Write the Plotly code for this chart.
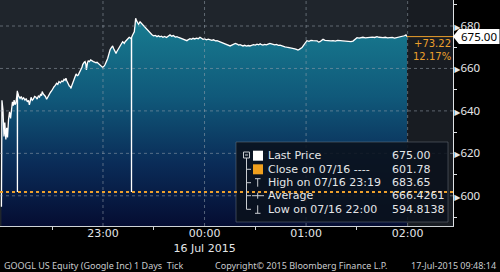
import plotly.graph_objects as go

# ---------------- data ----------------
minutes = [0.0, 0.3, 0.9, 1.5, 2.0, 2.6, 3.1, 3.6, 4.2, 4.8, 5.4, 6.0, 6.5, 7.0, 7.5, 8.0, 8.5, 9.0, 9.4, 9.45, 9.5,
           10.2, 11.0, 11.7, 12.3, 13.1, 13.9, 14.6, 15.3, 16.0, 16.5, 17.0, 17.5, 18.2, 18.8, 19.6, 20.4, 21.1, 21.8,
           22.5, 23.2, 23.7, 24.1, 24.7, 25.3, 26.0, 26.7, 27.5, 28.3, 29.0, 29.7, 30.4, 31.1, 31.8, 32.6, 33.3, 34.0,
           34.8, 35.6, 36.3, 37.0, 37.6, 38.1, 38.6, 39.1, 39.6, 40.1, 40.6, 41.1, 41.6, 42.1, 42.6, 43.0, 43.6, 44.1,
           44.8, 45.4, 45.9, 46.4, 47.0, 47.6, 48.0, 48.4, 48.9, 49.4, 49.9, 50.2, 50.4, 50.9, 51.3, 52.0, 52.7, 53.5,
           54.3, 55.1, 55.9, 56.5, 57.2, 57.9, 58.6, 59.2, 59.8, 60.3, 60.8, 61.3, 61.8, 62.3, 62.8, 63.3, 63.7, 64.2,
           64.7, 65.2, 65.7, 66.2, 66.7, 67.2, 67.7, 68.2, 68.7, 69.2, 69.6, 70.1, 70.6, 71.1, 71.6, 72.1, 72.6, 73.1,
           73.6, 74.1, 74.6, 75.0, 75.5, 76.0, 76.4, 76.8, 76.85, 76.9, 77.5, 78.0, 78.5, 79.0, 79.3, 79.8, 80.4, 81.0,
           81.9, 82.8, 83.8, 84.8, 85.8, 86.8, 87.8, 88.8, 89.8, 90.9, 91.9, 92.8, 93.6, 94.5, 95.4, 96.4, 97.5, 98.5,
           99.6, 100.6, 101.6, 102.7, 103.7, 104.7, 105.7, 106.7, 107.7, 108.6, 109.6, 110.5, 111.4, 112.3, 113.2,
           114.2, 115.2, 116.3, 117.3, 118.2, 119.1, 120.1, 121.1, 122.2, 123.2, 124.3, 125.3, 126.4, 127.4, 128.3,
           129.2, 130.1, 131.0, 132.0, 133.0, 134.1, 135.1, 136.1, 137.1, 138.2, 139.2, 140.1, 141.0, 141.9, 142.7,
           143.7, 144.8, 145.8, 146.8, 147.8, 148.9, 150.0, 151.0, 152.0, 152.9, 153.7, 154.5, 155.5, 156.5, 157.6,
           158.6, 159.5, 160.4, 161.5, 162.5, 163.6, 164.6, 165.6, 166.5, 167.5, 168.5, 169.5, 170.5, 171.4, 172.4,
           173.4, 174.3, 175.2, 176.0, 176.8, 177.6, 178.4, 179.3, 180.0, 180.5, 181.7, 182.9, 184.1, 185.3, 186.5,
           187.4, 188.2, 189.1, 190.0, 191.2, 192.3, 193.5, 194.7, 195.9, 197.3, 198.6, 200.0, 201.4, 202.7, 204.1,
           205.3, 206.5, 207.7, 208.9, 210.1, 211.3, 212.4, 213.6, 215.0, 216.3, 217.7, 219.1, 220.5, 221.9, 223.1,
           224.2, 225.4, 226.8, 228.2, 229.5, 230.9, 232.3, 233.7, 235.0, 236.1, 237.2, 238.1, 239.0, 239.6]

prices = [594.81, 645.0, 640.5, 628.0, 634.5, 626.5, 632.0, 627.5, 636.0, 639.5, 636.5, 642.0, 644.3, 642.5, 645.1,
          643.0, 643.6, 646.5, 649.5, 601.8, 649.0,
          647.0, 645.9, 646.8, 645.5, 646.2, 645.1, 645.8, 644.3, 645.0, 642.8, 644.5, 646.4, 645.0, 645.5, 646.8,
          646.4, 645.6, 647.0, 646.5, 648.0, 647.2, 649.1, 648.0, 647.5, 646.8, 645.5, 646.8, 647.5, 648.8, 649.5,
          650.8, 651.4, 652.0, 653.0, 652.5, 653.8, 653.2, 654.1, 653.8, 654.9, 654.4, 655.4, 654.2, 653.0, 652.2,
          651.7, 651.5, 650.6, 652.0, 653.0, 654.5, 655.4, 656.5, 657.4, 656.6, 656.9, 657.8, 658.5, 659.5, 660.5,
          661.8, 662.7, 662.9, 663.2, 662.0, 659.3, 661.6, 662.8, 663.5, 663.2, 664.0, 663.5, 663.2, 663.0, 662.7,
          662.9, 662.4, 661.8, 661.2, 660.8, 660.5, 660.9, 661.2, 662.0, 662.7, 663.8, 664.8, 666.5, 667.9, 668.8,
          669.5, 670.0, 670.6, 669.5, 668.4, 667.5, 667.1, 668.0, 668.7, 669.6, 670.2, 670.8, 671.5, 672.0, 672.6,
          672.2, 671.8, 672.6, 673.1, 673.4, 673.7, 674.0, 674.7, 674.5, 674.2, 674.4, 601.8, 674.6, 675.8, 676.6,
          677.3, 681.0, 683.65, 682.5, 681.5, 680.8,
          682.0, 681.2, 680.5, 679.7, 678.6, 677.5, 676.6, 676.0, 675.4, 675.6, 675.0, 675.4, 674.9, 675.2, 674.7,
          675.1, 674.6, 675.3, 675.8, 675.2, 675.5, 674.8, 675.0, 674.6, 674.3, 673.8, 673.5, 673.3, 673.1, 673.6,
          674.0, 673.7, 674.2, 673.9, 674.3, 674.0, 674.7, 674.2, 673.7, 673.9, 673.5, 673.8, 673.4, 673.2, 673.5,
          673.0, 673.1, 672.8, 672.5, 672.2, 671.8, 671.5, 671.0, 670.8, 670.6, 671.0, 671.3, 671.8, 671.5, 671.0,
          671.2, 670.8, 670.6, 670.9, 670.5, 670.8, 670.6, 670.9, 671.2, 671.0, 671.4, 671.1, 671.6, 671.2, 671.0,
          671.3, 671.1, 671.5, 671.8, 671.6, 671.4, 671.1, 671.3, 670.9, 671.0, 670.6, 670.4, 670.2, 670.0, 669.9,
          669.8, 669.5, 669.4, 669.2, 669.0, 668.7, 669.0, 669.4, 669.8, 670.8, 672.1, 672.6, 673.1, 672.8, 673.2,
          673.1, 672.9, 673.0, 672.4, 672.6, 673.2, 673.7, 673.2, 673.1, 672.8, 673.0, 673.1, 672.9, 673.2, 673.1,
          672.9, 673.0, 672.6, 672.8, 672.6, 672.9, 673.6, 674.5, 674.3, 674.6, 674.7, 674.4, 674.6, 674.5, 674.8,
          674.6, 675.0, 674.7, 674.5, 674.5, 674.7, 674.4, 674.5, 674.6, 674.3, 674.5, 674.7, 674.9, 675.0, 675.4,
          675.8, 675.0]

close_prev = 601.78
last_price = 675.00
high_price = 683.65
avg_price = 666.4261
low_price = 594.8138

y_tickvals = [600, 620, 640, 660, 680]
y_minorvals = [590, 610, 630, 650, 670, 690]
x_tickvals = [60, 120, 180, 240]
x_ticktext = ["23:00", "00:00<br>16 Jul 2015", "01:00", "02:00"]
x_minorvals = [30, 90, 150, 210]

legend_labels = ["Last Price", "Close on 07/16 ----", "High on 07/16 23:19", "Average", "Low on 07/16 22:00"]
legend_values = ["675.00", "601.78", "683.65", "666.4261", "594.8138"]

footer_left = "GOOGL US Equity (Google Inc) 1 Days  Tick"
footer_mid = "Copyright\u00a9 2015 Bloomberg Finance L.P."
footer_right = "17-Jul-2015 09:48:14"

# ---------------- layout helpers ----------------
W, H = 500, 272
MR, MB = 47, 46
PW, PH = W - MR, H - MB
x_range = [-0.85, 266.8]
y_range = [585.77, 692.25]
ppu = PH / (y_range[1] - y_range[0])


def px(x):
    return x / PW


def py(y):
    return 1 - y / PH


FONT = "Noto Sans, DejaVu Sans, sans-serif"
FONT_W = "DejaVu Sans, sans-serif"
ORANGE = "#eda02c"
TXT = "#e4e6e8"

fig = go.Figure()
fig.add_trace(go.Scatter(
    x=minutes, y=prices, mode="lines",
    line=dict(color="white", width=1.3),
    fill="tozeroy",
    fillgradient=dict(type="vertical", start=y_range[0], stop=684,
                      colorscale=[[0, "#050d32"], [0.3, "#0a2c58"], [0.62, "#10597a"], [1, "#187d91"]]),
    hoverinfo="skip", showlegend=False,
))

shapes = []
# darker area right of last tick
shapes.append(dict(type="rect", xref="x", yref="paper", x0=minutes[-1], x1=x_range[1], y0=0, y1=1,
                   fillcolor="rgba(0,0,0,0.22)", line=dict(width=0), layer="below"))
# gridlines
for v in y_tickvals:
    shapes.append(dict(type="line", xref="paper", yref="y", x0=0, x1=1, y0=v, y1=v,
                       line=dict(color="rgba(150,160,172,0.55)", width=1, dash="dot"), layer="above"))
for v in x_tickvals:
    shapes.append(dict(type="line", xref="x", yref="paper", x0=v, x1=v, y0=0, y1=1,
                       line=dict(color="rgba(150,160,172,0.55)", width=1, dash="dot"), layer="above"))
# last price line
shapes.append(dict(type="line", xref="x", yref="y", x0=minutes[-1], x1=x_range[1], y0=last_price, y1=last_price,
                   line=dict(color=ORANGE, width=1), layer="above"))
# legend box
shapes.append(dict(type="rect", xref="paper", yref="paper", x0=px(236), x1=px(448), y0=py(222), y1=py(142),
                   fillcolor="rgba(10,17,27,0.88)", line=dict(color="rgba(120,130,140,0.45)", width=1),
                   layer="above"))
# previous close dotted line
shapes.append(dict(type="line", xref="paper", yref="y", x0=0, x1=1, y0=close_prev, y1=close_prev,
                   line=dict(color=ORANGE, width=2, dash="dot"), layer="above"))

rows_y = [155.7, 169.3, 182.7, 195.7, 209.3]
SYM = "#c8ccd0"
# tree
shapes.append(dict(type="rect", xref="paper", yref="paper", x0=px(243.5), x1=px(249.5), y0=py(158), y1=py(152),
                   line=dict(color=SYM, width=1), layer="above"))
shapes.append(dict(type="line", xref="paper", yref="paper", x0=px(245), x1=px(248), y0=py(155), y1=py(155),
                   line=dict(color=SYM, width=1), layer="above"))
shapes.append(dict(type="line", xref="paper", yref="paper", x0=px(246.5), x1=px(246.5), y0=py(158), y1=py(rows_y[4]),
                   line=dict(color=SYM, width=1), layer="above"))
for ry in rows_y[1:]:
    shapes.append(dict(type="line", xref="paper", yref="paper", x0=px(246.5), x1=px(251), y0=py(ry), y1=py(ry),
                       line=dict(color=SYM, width=1), layer="above"))
# colour squares
shapes.append(dict(type="rect", xref="paper", yref="paper", x0=px(253), x1=px(263), y0=py(rows_y[0] + 5),
                   y1=py(rows_y[0] - 5), fillcolor="white", line=dict(width=0), layer="above"))
shapes.append(dict(type="rect", xref="paper", yref="paper", x0=px(253), x1=px(263), y0=py(rows_y[1] + 5),
                   y1=py(rows_y[1] - 5), fillcolor="#f0a01e", line=dict(width=0), layer="above"))
# high symbol (T)
shapes.append(dict(type="line", xref="paper", yref="paper", x0=px(255), x1=px(260.5), y0=py(rows_y[2] - 4),
                   y1=py(rows_y[2] - 4), line=dict(color=SYM, width=1), layer="above"))
shapes.append(dict(type="line", xref="paper", yref="paper", x0=px(257.7), x1=px(257.7), y0=py(rows_y[2] - 4),
                   y1=py(rows_y[2] + 4), line=dict(color=SYM, width=1), layer="above"))
# average symbol (+)
shapes.append(dict(type="line", xref="paper", yref="paper", x0=px(252), x1=px(264), y0=py(rows_y[3]),
                   y1=py(rows_y[3]), line=dict(color=SYM, width=1), layer="above"))
shapes.append(dict(type="line", xref="paper", yref="paper", x0=px(257.7), x1=px(257.7), y0=py(rows_y[3] - 3),
                   y1=py(rows_y[3] + 3), line=dict(color=SYM, width=1), layer="above"))
# low symbol (inverted T)
shapes.append(dict(type="line", xref="paper", yref="paper", x0=px(255), x1=px(260.5), y0=py(rows_y[4] + 4),
                   y1=py(rows_y[4] + 4), line=dict(color=SYM, width=1), layer="above"))
shapes.append(dict(type="line", xref="paper", yref="paper", x0=px(257.7), x1=px(257.7), y0=py(rows_y[4] - 4),
                   y1=py(rows_y[4] + 4), line=dict(color=SYM, width=1), layer="above"))

# last price tag (white arrow box)
th = 7.5 / ppu
x_tag0 = 1.0
x_tag1 = px(459)
x_tag2 = px(499.5)
shapes.append(dict(type="path", xref="paper", yref="y",
                   path=f"M {x_tag0} {last_price} L {x_tag1} {last_price + th} L {x_tag2} {last_price + th} "
                        f"L {x_tag2} {last_price - th} L {x_tag1} {last_price - th} Z",
                   fillcolor="white", line=dict(width=0), layer="above"))

annotations = []
annotations.append(dict(xref="paper", yref="y", x=px(479), y=last_price, text=f"{last_price:.2f}",
                        showarrow=False, font=dict(family=FONT, size=11.5, color="black"),
                        xanchor="center", yanchor="middle"))
chg = last_price - close_prev
pct = chg / close_prev * 100
annotations.append(dict(xref="paper", yref="paper", x=px(452.5), y=py(43.5), text=f"+{chg:.2f}",
                        showarrow=False, font=dict(family=FONT_W, size=10, color=ORANGE),
                        xanchor="right", yanchor="middle"))
annotations.append(dict(xref="paper", yref="paper", x=px(452.5), y=py(56.9), text=f"{pct:.2f}%",
                        showarrow=False, font=dict(family=FONT_W, size=10, color=ORANGE),
                        xanchor="right", yanchor="middle"))
for lab, val, ry in zip(legend_labels, legend_values, rows_y):
    annotations.append(dict(xref="paper", yref="paper", x=px(266), y=py(ry), text=lab, showarrow=False,
                            font=dict(family=FONT_W, size=11, color=TXT), xanchor="left", yanchor="middle"))
    annotations.append(dict(xref="paper", yref="paper", x=px(390), y=py(ry), text=val, showarrow=False,
                            font=dict(family=FONT_W, size=11, color=TXT), xanchor="left", yanchor="middle"))
# footer
for txt, xx, anc in [(footer_left, 2, "left"), (footer_mid, 213, "left"), (footer_right, 498, "right")]:
    annotations.append(dict(xref="paper", yref="paper", x=px(xx), y=py(265), text=txt, showarrow=False,
                            font=dict(family=FONT, size=9, color="#c9cbcd"), xanchor=anc, yanchor="middle"))

fig.update_layout(
    width=W, height=H,
    margin=dict(l=0, r=MR, t=0, b=MB, pad=0),
    paper_bgcolor="black",
    plot_bgcolor="#1f252c",
    showlegend=False,
    shapes=shapes,
    annotations=annotations,
    xaxis=dict(range=x_range, showgrid=False, zeroline=False, showline=True, linecolor="#cfd3d6", linewidth=1,
               tickmode="array", tickvals=x_tickvals, ticktext=x_ticktext, ticks="",
               ticklabelstandoff=-3,
               tickfont=dict(family=FONT_W, size=11, color=TXT),
               minor=dict(tickmode="array", tickvals=x_minorvals, ticks="outside", ticklen=3,
                          tickcolor="#cfd3d6", showgrid=False)),
    yaxis=dict(range=y_range, side="right", showgrid=False, zeroline=False, showline=True, linecolor="#e0e3e6",
               linewidth=1, tickmode="array", tickvals=y_tickvals,
               ticktext=['<span style="font-size:8px">\u25b6</span>' + str(v) for v in y_tickvals],
               ticks="", ticklabelstandoff=-2, tickfont=dict(family=FONT, size=11.5, color=TXT),
               minor=dict(tickmode="array", tickvals=y_minorvals, ticks="outside", ticklen=3,
                          tickcolor="#e0e3e6", showgrid=False)),
)

fig.write_html("out.html")
